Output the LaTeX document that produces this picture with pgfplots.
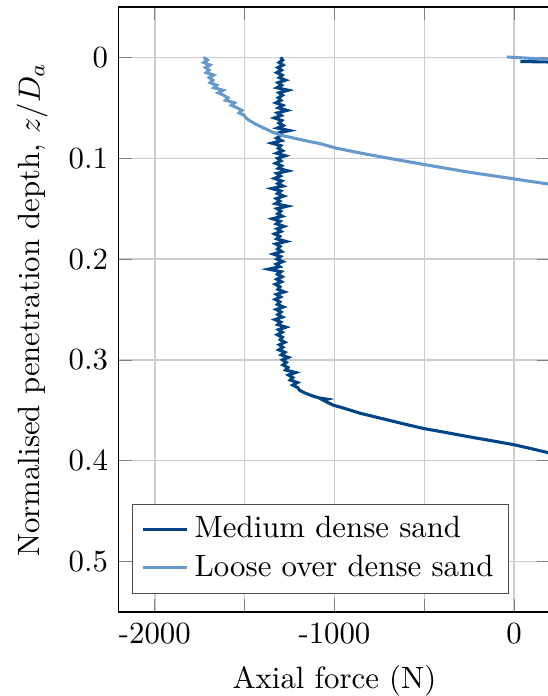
\documentclass[border=0pt]{standalone}
\usepackage{pgfplots}
\pgfplotsset{compat=1.18}
\definecolor{densesand}{HTML}{004488}
\definecolor{loosesand}{HTML}{6699CC}

% Axial force (N) against normalised depth z/D_a
\pgfplotstableread{
x z
-1300 0.0000
-1288 0.0025
-1308 0.0050
-1286 0.0075
-1315 0.0100
-1295 0.0125
-1321 0.0150
-1291 0.0175
-1307 0.0200
-1272 0.0225
-1314 0.0250
-1294 0.0275
-1320 0.0300
-1258 0.0325
-1309 0.0350
-1289 0.0375
-1313 0.0400
-1298 0.0425
-1326 0.0450
-1288 0.0475
-1312 0.0500
-1264 0.0525
-1318 0.0550
-1296 0.0575
-1335 0.0600
-1293 0.0625
-1309 0.0650
-1285 0.0675
-1318 0.0700
-1251 0.0725
-1316 0.0750
-1300 0.0775
-1322 0.0800
-1295 0.0825
-1349 0.0850
-1299 0.0875
-1313 0.0900
-1289 0.0925
-1322 0.0950
-1273 0.0975
-1316 0.1000
-1298 0.1025
-1328 0.1050
-1294 0.1075
-1313 0.1100
-1259 0.1125
-1321 0.1150
-1301 0.1175
-1334 0.1200
-1293 0.1225
-1315 0.1250
-1287 0.1275
-1349 0.1300
-1299 0.1325
-1317 0.1350
-1282 0.1375
-1324 0.1400
-1304 0.1425
-1328 0.1450
-1262 0.1475
-1320 0.1500
-1298 0.1525
-1316 0.1550
-1290 0.1575
-1345 0.1600
-1303 0.1625
-1323 0.1650
-1281 0.1675
-1319 0.1700
-1297 0.1725
-1333 0.1750
-1305 0.1775
-1321 0.1800
-1269 0.1825
-1327 0.1850
-1302 0.1875
-1317 0.1900
-1294 0.1925
-1340 0.1950
-1300 0.1975
-1320 0.2000
-1288 0.2025
-1324 0.2050
-1304 0.2075
-1367 0.2100
-1297 0.2125
-1317 0.2150
-1291 0.2175
-1321 0.2200
-1295 0.2225
-1329 0.2250
-1303 0.2275
-1315 0.2300
-1279 0.2325
-1323 0.2350
-1300 0.2375
-1330 0.2400
-1304 0.2425
-1318 0.2450
-1284 0.2475
-1324 0.2500
-1297 0.2525
-1315 0.2550
-1290 0.2575
-1331 0.2600
-1299 0.2625
-1316 0.2650
-1270 0.2675
-1311 0.2700
-1291 0.2725
-1318 0.2750
-1290 0.2775
-1302 0.2800
-1276 0.2825
-1307 0.2850
-1287 0.2875
-1310 0.2900
-1276 0.2925
-1296 0.2950
-1257 0.2975
-1289 0.3000
-1268 0.3025
-1287 0.3050
-1259 0.3075
-1272 0.3100
-1216 0.3125
-1256 0.3150
-1232 0.3175
-1246 0.3200
-1206 0.3225
-1232 0.3250
-1204 0.3275
-1195 0.3300
-1168 0.3325
-1133 0.3350
-1090 0.3375
-1040 0.3390
-1062 0.3400
-1035 0.3425
-1005 0.3450
-955 0.3475
-910 0.3500
-855 0.3530
-740 0.3580
-625 0.3630
-505 0.3680
-380 0.3720
-228 0.3770
-130 0.3800
-5 0.3840
95 0.3880
189 0.3920
290 0.3960
}\mediumdense

\pgfplotstableread{
x z
-1728 0.0000
-1707 0.0025
-1727 0.0050
-1693 0.0075
-1718 0.0100
-1698 0.0125
-1714 0.0150
-1672 0.0175
-1697 0.0200
-1677 0.0225
-1692 0.0250
-1655 0.0275
-1671 0.0300
-1620 0.0325
-1647 0.0350
-1617 0.0375
-1592 0.0400
-1606 0.0425
-1556 0.0450
-1574 0.0475
-1541 0.0500
-1516 0.0525
-1531 0.0550
-1502 0.0575
-1492 0.0600
-1478 0.0620
-1440 0.0660
-1394 0.0700
-1345 0.0740
-1300 0.0770
-1225 0.0800
-1150 0.0830
-1078 0.0855
-994 0.0898
-850 0.0950
-706 0.0997
-494 0.1064
-244 0.1140
5 0.1206
189 0.1255
370 0.1300
}\looseoverdense

\begin{document}
\begin{tikzpicture}
\begin{axis}[
  name=ax,
  scale only axis,
  width=140pt, height=196.4pt,
  xmin=-2200, xmax=200,
  ymin=-0.05, ymax=0.55,
  y dir=reverse,
  xtick={-2000,-1500,-1000,-500,0},
  xticklabels={-2000,,-1000,,0},
  ytick={0,0.1,0.2,0.3,0.4,0.5},
  grid=major,
  major grid style={line width=0.5pt, black!20},
  tick style={black!50},
  xlabel={Axial force (N)},
  ylabel={Normalised penetration depth, $z/D_a$},
  legend pos=south west,
  legend cell align=left,
  legend style={draw=black!70},
  legend image code/.code={\draw[#1] (0cm,0cm) -- (0.5cm,0cm);},
]
\addplot[densesand, line width=1pt] table[x=x, y=z] {\mediumdense};
\addlegendentry{Medium dense sand}
\addplot[loosesand, line width=1pt] table[x=x, y=z] {\looseoverdense};
\addlegendentry{Loose over dense sand}
% initial contact segments near the surface
\addplot[densesand, line width=1pt, forget plot] coordinates {(35,0.004) (200,0.0045)};
\addplot[loosesand, line width=1pt, forget plot] coordinates {(-40,-0.0005) (200,0.002)};
\end{axis}
\pgfresetboundingbox
\path[use as bounding box] ([xshift=-38.6pt,yshift=-27.3pt]ax.south west)
  rectangle ([xshift=139.3pt,yshift=2.3pt]ax.north west);
\end{tikzpicture}
\end{document}
